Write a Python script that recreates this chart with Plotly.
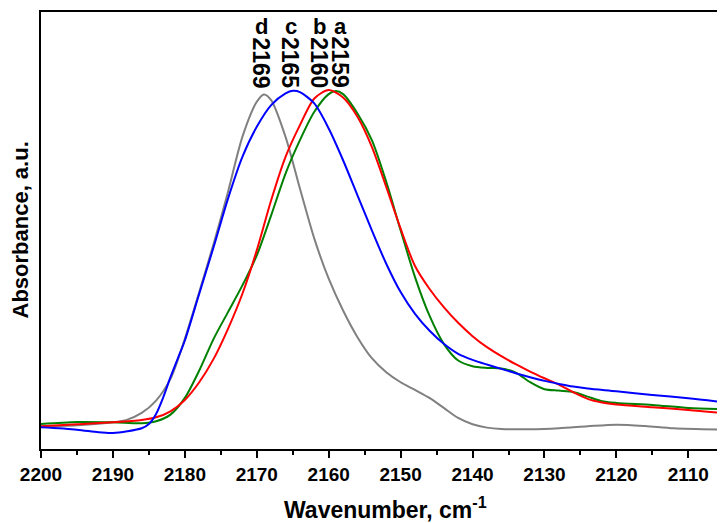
import plotly.graph_objects as go

# Wavenumber (cm-1) and absorbance (a.u.)
wn_a = [2200, 2195, 2190, 2186, 2184, 2182, 2180, 2178, 2176, 2174, 2172, 2170, 2168, 2166, 2164, 2162, 2160, 2159,
        2158, 2156, 2154, 2152, 2150, 2148, 2146, 2144, 2142, 2140, 2138, 2136, 2134, 2132, 2130, 2128, 2126, 2124,
        2122, 2120, 2115, 2110, 2105]
abs_a = [0.075, 0.081, 0.080, 0.077, 0.083, 0.103, 0.153, 0.235, 0.330, 0.410, 0.490, 0.580, 0.700, 0.825, 0.925,
         1.010, 1.063, 1.072, 1.063, 1.005, 0.925, 0.800, 0.655, 0.515, 0.400, 0.315, 0.265, 0.248, 0.243, 0.241,
         0.229, 0.200, 0.179, 0.175, 0.171, 0.157, 0.143, 0.138, 0.132, 0.123, 0.119]

wn_b = [2200, 2195, 2190, 2186, 2184, 2182, 2180, 2178, 2176, 2174, 2172, 2170, 2168, 2166, 2164, 2162, 2160, 2158,
        2156, 2154, 2152, 2150, 2148, 2146, 2144, 2142, 2140, 2138, 2136, 2134, 2132, 2130, 2128, 2126, 2124, 2122,
        2120, 2115, 2110, 2105]
abs_b = [0.068, 0.074, 0.080, 0.087, 0.095, 0.113, 0.147, 0.200, 0.270, 0.360, 0.465, 0.595, 0.745, 0.875, 0.970,
         1.050, 1.075, 1.053, 0.995, 0.905, 0.785, 0.660, 0.548, 0.480, 0.425, 0.378, 0.338, 0.305, 0.278, 0.254,
         0.232, 0.212, 0.193, 0.170, 0.150, 0.139, 0.133, 0.125, 0.117, 0.107]

wn_c = [2200, 2195, 2192, 2190, 2188, 2186, 2185, 2184, 2183, 2182, 2181, 2180, 2178, 2176, 2174, 2172, 2170, 2168,
        2166, 2165, 2164, 2162, 2160, 2158, 2156, 2154, 2152, 2150, 2148, 2146, 2144, 2142, 2140, 2138, 2136, 2134,
        2132, 2130, 2128, 2126, 2124, 2120, 2115, 2110, 2105]
abs_c = [0.065, 0.058, 0.050, 0.048, 0.053, 0.062, 0.075, 0.105, 0.155, 0.215, 0.270, 0.325, 0.465, 0.605, 0.750,
         0.875, 0.965, 1.030, 1.065, 1.073, 1.069, 1.035, 0.960, 0.865, 0.760, 0.655, 0.555, 0.470, 0.405, 0.355,
         0.315, 0.285, 0.267, 0.253, 0.240, 0.227, 0.215, 0.204, 0.195, 0.187, 0.181, 0.173, 0.162, 0.152, 0.140]

wn_d = [2200, 2195, 2190, 2188, 2186, 2184, 2182, 2180, 2178, 2176, 2174, 2172, 2170, 2169, 2168, 2166, 2164, 2162,
        2160, 2158, 2156, 2154, 2152, 2150, 2148, 2146, 2144, 2142, 2140, 2138, 2136, 2132, 2128, 2124, 2120, 2116,
        2112, 2105]
abs_d = [0.067, 0.071, 0.080, 0.088, 0.108, 0.145, 0.210, 0.330, 0.470, 0.615, 0.770, 0.935, 1.040, 1.062, 1.045,
         0.935, 0.780, 0.630, 0.510, 0.415, 0.335, 0.272, 0.230, 0.200, 0.177, 0.153, 0.123, 0.093, 0.074, 0.064,
         0.060, 0.059, 0.062, 0.068, 0.073, 0.069, 0.062, 0.058]

peak_labels = ["2159", "2160", "2165", "2169"]
peak_letters = ["a", "b", "c", "d"]

# layout geometry (page body has an 8px margin, so the figure is sized to fit the window)
OFF = 8
W, H = 725 - OFF, 523 - OFF
PLOT_L, PLOT_T, PLOT_B, PLOT_R = 41, 12, 449, 725   # wanted plot-area edges in window pixels
ML, MT = PLOT_L - OFF, PLOT_T - OFF
MB = H - (PLOT_B - OFF)
MR = W - (PLOT_R - OFF)
PH = PLOT_B - PLOT_T
PW = PLOT_R - PLOT_L


def py(ypx):
    return (PLOT_B - ypx) / PH


def px(xpx):
    return (xpx - PLOT_L) / PW


fig = go.Figure()
lw = 2
sm = 0.8
fig.add_trace(go.Scatter(x=wn_d, y=abs_d, mode="lines", line=dict(color="#808080", width=lw, shape="spline", smoothing=sm), name="d"))
fig.add_trace(go.Scatter(x=wn_a, y=abs_a, mode="lines", line=dict(color="#008000", width=lw, shape="spline", smoothing=sm), name="a"))
fig.add_trace(go.Scatter(x=wn_b, y=abs_b, mode="lines", line=dict(color="#FF0000", width=lw, shape="spline", smoothing=sm), name="b"))
fig.add_trace(go.Scatter(x=wn_c, y=abs_c, mode="lines", line=dict(color="#0000FF", width=lw, shape="spline", smoothing=sm), name="c"))

font_fam = "Liberation Sans, Arial, sans-serif"
# annotation x positions (cm-1)
ann_x = [2158.3, 2161.3, 2165.3, 2169.4]
for xp, num, let in zip(ann_x, peak_labels, peak_letters):
    fig.add_annotation(x=xp, xref="x", y=py(62.5), yref="paper", text="<b>" + num + "</b>",
                       textangle=90, showarrow=False, font=dict(family=font_fam, size=23, color="black"),
                       xanchor="center", yanchor="middle")
    fig.add_annotation(x=xp, xref="x", y=py(26), yref="paper", text="<b>" + let + "</b>",
                       showarrow=False, font=dict(family=font_fam, size=22, color="black"),
                       xanchor="center", yanchor="middle")

# axis titles
fig.add_annotation(x=px(385), xref="paper", y=py(508), yref="paper",
                   text="<b>Wavenumber, cm<sup>-1</sup></b>", showarrow=False,
                   font=dict(family=font_fam, size=23, color="black"), xanchor="center", yanchor="middle")
fig.add_annotation(x=px(20.5), xref="paper", y=py(230), yref="paper",
                   text="<b>Absorbance, a.u.</b>", showarrow=False, textangle=-90,
                   font=dict(family=font_fam, size=22, color="black"), xanchor="center", yanchor="middle")

fig.update_layout(
    width=W, height=H,
    margin=dict(l=ML, r=MR, t=MT, b=MB, pad=0),
    paper_bgcolor="white", plot_bgcolor="white",
    showlegend=False,
    font=dict(family=font_fam, color="black"),
)
fig.update_xaxes(
    range=[2200, 2104.9], autorange=False, automargin=False,
    showline=True, linecolor="black", linewidth=2, mirror=True,
    ticks="outside", ticklen=7, tickwidth=1.5, tickcolor="black", dtick=10, tick0=2200,
    minor=dict(ticks="outside", ticklen=4, tickwidth=1.5, tickcolor="black", dtick=5),
    showgrid=False, zeroline=False,
    tickfont=dict(family=font_fam, size=19, color="black"),
    tickprefix="<b>", ticksuffix="</b>",
)
fig.update_yaxes(
    range=[0, 1.309], autorange=False, automargin=False,
    showline=True, linecolor="black", linewidth=2, mirror=False,
    ticks="", showticklabels=False, showgrid=False, zeroline=False,
)

fig.write_html("out.html")
